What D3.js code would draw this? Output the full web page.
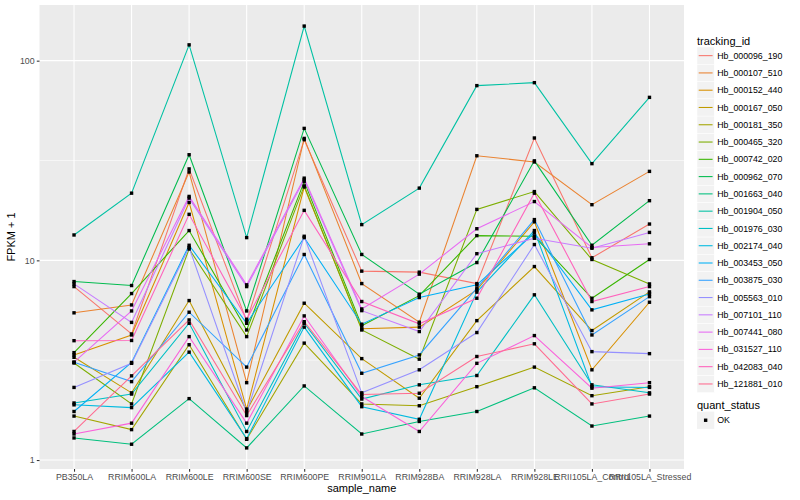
<!DOCTYPE html>
<html>
<head>
<meta charset="utf-8">
<script src="https://cdn.jsdelivr.net/npm/d3@7"></script>
<style>
  body { margin: 0; background: #fff; }
  text { font-family: "Liberation Sans", Arial, Helvetica, sans-serif; }
</style>
</head>
<body>
<div id="chart"></div>
<script>
// --- Data (FPKM + 1) ---
const samples = ['PB350LA', 'RRIM600LA', 'RRIM600LE', 'RRIM600SE', 'RRIM600PE', 'RRIM901LA',
  'RRIM928BA', 'RRIM928LA', 'RRIM928LE', 'RRII105LA_Control', 'RRII105LA_Stressed'];

const trackingIds = ['Hb_000096_190', 'Hb_000107_510', 'Hb_000152_440', 'Hb_000167_050', 'Hb_000181_350',
  'Hb_000465_320', 'Hb_000742_020', 'Hb_000962_070', 'Hb_001663_040', 'Hb_001904_050',
  'Hb_001976_030', 'Hb_002174_040', 'Hb_003453_050', 'Hb_003875_030', 'Hb_005563_010',
  'Hb_007101_110', 'Hb_007441_080', 'Hb_031527_110', 'Hb_042083_040', 'Hb_121881_010'];

const hb000096_190 = [7.39, 4.28, 28.7, 4.97, 40.2, 8.83, 8.73, 7.65, 41.0, 10.3, 15.2];
const hb000107_510 = [5.46, 5.98, 27.7, 2.44, 40.8, 7.65, 4.90, 33.4, 31.1, 19.0, 27.9];
const hb000152_440 = [3.36, 4.23, 19.5, 1.80, 23.3, 4.54, 4.63, 7.11, 15.6, 2.83, 6.17];
const hb000167_050 = [3.27, 2.17, 6.29, 1.77, 6.10, 3.22, 2.04, 4.99, 9.31, 4.45, 6.95];
const hb000181_350 = [1.66, 1.42, 3.78, 1.27, 3.85, 1.91, 1.87, 2.33, 2.92, 2.10, 2.33];
const hb000465_320 = [3.06, 1.91, 11.4, 4.15, 23.6, 4.48, 3.20, 18.0, 22.1, 10.1, 7.62];
const hb000742_020 = [3.45, 6.82, 14.1, 4.48, 24.8, 4.70, 6.66, 13.3, 13.2, 6.46, 10.1];
const hb000962_070 = [7.83, 7.48, 33.8, 5.58, 45.8, 10.7, 6.77, 9.75, 31.5, 11.9, 19.9];
const hb001663_040 = [1.29, 1.20, 2.03, 1.15, 2.35, 1.35, 1.56, 1.75, 2.30, 1.48, 1.66];
const hb001904_050 = [13.4, 21.7, 120, 13.0, 149, 15.1, 23.0, 75.0, 77.6, 30.5, 65.5];
const hb001976_030 = [1.93, 2.14, 4.84, 1.39, 4.84, 2.02, 2.38, 2.65, 6.72, 2.38, 2.17];
const hb002174_040 = [1.89, 1.83, 3.47, 1.28, 4.63, 1.85, 1.60, 6.93, 14.1, 2.33, 2.31];
const hb003453_050 = [1.75, 3.08, 11.9, 4.84, 13.0, 4.79, 6.51, 7.54, 13.7, 5.65, 6.79];
const hb003875_030 = [3.09, 2.47, 5.50, 2.92, 10.7, 2.72, 3.36, 7.26, 16.0, 4.23, 6.58];
const hb005563_010 = [2.31, 3.05, 11.6, 1.73, 13.2, 2.17, 2.83, 4.35, 12.0, 3.49, 3.41];
const hb007101_110 = [7.62, 4.89, 20.5, 7.39, 25.3, 5.60, 4.40, 10.8, 12.9, 11.5, 13.8];
const hb007441_080 = [3.09, 5.58, 20.9, 7.54, 25.8, 5.71, 8.53, 14.4, 19.7, 11.6, 12.1];
const hb031527_110 = [1.35, 1.53, 4.15, 1.53, 5.27, 2.08, 1.39, 3.05, 4.20, 2.29, 2.44];
const hb042083_040 = [3.96, 3.97, 17.0, 5.07, 17.8, 6.22, 4.81, 6.46, 21.7, 6.22, 7.39];
const hb121881_010 = [1.39, 2.64, 5.03, 1.67, 4.93, 2.13, 2.16, 3.30, 3.82, 1.91, 2.14];

const seriesValues = [hb000096_190, hb000107_510, hb000152_440, hb000167_050, hb000181_350,
  hb000465_320, hb000742_020, hb000962_070, hb001663_040, hb001904_050,
  hb001976_030, hb002174_040, hb003453_050, hb003875_030, hb005563_010,
  hb007101_110, hb007441_080, hb031527_110, hb042083_040, hb121881_010];

const yTicks = [1, 10, 100];
const yMinor = [Math.pow(10, 0.5), Math.pow(10, 1.5)];
const quantLevels = ['OK'];

// ggplot default hue palette for 20 levels
const palette = ['#F8766D', '#EA8331', '#D89000', '#C09B00', '#A3A500', '#7CAE00', '#39B600',
  '#00BB4E', '#00BF7D', '#00C1A3', '#00BFC4', '#00BAE0', '#00B0F6', '#35A2FF', '#9590FF',
  '#C77CFF', '#E76BF3', '#FA62DB', '#FF62BC', '#FF6C91'];

// --- Layout ---
const W = 800, H = 500;
const panel = { left: 39.5, right: 684, top: 5, bottom: 469 };
const axisText = '#4D4D4D';

const svg = d3.select('#chart').append('svg')
  .attr('width', W).attr('height', H);

svg.append('rect').attr('width', W).attr('height', H).attr('fill', '#fff');

// scales (log10, 5% expansion like ggplot)
const allVals = seriesValues.flat();
const lmin = Math.log10(d3.min(allVals)), lmax = Math.log10(d3.max(allVals));
const pad = (lmax - lmin) * 0.05;
const y = d3.scaleLog()
  .domain([Math.pow(10, lmin - pad), Math.pow(10, lmax + pad)])
  .range([panel.bottom, panel.top]);

const x = d3.scalePoint()
  .domain(samples)
  .range([panel.left, panel.right])
  .padding(0.6);

// panel background
svg.append('rect')
  .attr('x', panel.left).attr('y', panel.top)
  .attr('width', panel.right - panel.left).attr('height', panel.bottom - panel.top)
  .attr('fill', '#EBEBEB');

// grid
const grid = svg.append('g');
grid.selectAll('.minor').data(yMinor).join('line')
  .attr('x1', panel.left).attr('x2', panel.right)
  .attr('y1', d => y(d)).attr('y2', d => y(d))
  .attr('stroke', '#fff').attr('stroke-width', 0.55);
grid.selectAll('.majy').data(yTicks).join('line')
  .attr('x1', panel.left).attr('x2', panel.right)
  .attr('y1', d => y(d)).attr('y2', d => y(d))
  .attr('stroke', '#fff').attr('stroke-width', 1.1);
grid.selectAll('.majx').data(samples).join('line')
  .attr('x1', d => x(d)).attr('x2', d => x(d))
  .attr('y1', panel.top).attr('y2', panel.bottom)
  .attr('stroke', '#fff').attr('stroke-width', 1.1);

// lines
const line = d3.line()
  .x((d, i) => x(samples[i]))
  .y(d => y(d));

svg.append('g').selectAll('path').data(seriesValues).join('path')
  .attr('d', d => line(d))
  .attr('fill', 'none')
  .attr('stroke', (d, i) => palette[i])
  .attr('stroke-width', 1.07);

// points (quant_status = OK, square)
const pts = [];
seriesValues.forEach(vals => vals.forEach((v, i) => pts.push({ s: samples[i], v })));
svg.append('g').selectAll('rect').data(pts).join('rect')
  .attr('x', d => x(d.s) - 1.7).attr('y', d => y(d.v) - 1.7)
  .attr('width', 3.4).attr('height', 3.4)
  .attr('fill', '#000');

// y axis
const yAxis = d3.axisLeft(y).tickValues(yTicks).tickFormat(d3.format('d')).tickSize(2.7).tickPadding(2.2);
const gy = svg.append('g').attr('transform', `translate(${panel.left},0)`).call(yAxis);
gy.select('.domain').remove();
gy.selectAll('.tick line').attr('stroke', '#333').attr('stroke-width', 1.07);
gy.selectAll('.tick text').attr('fill', axisText).style('font-size', '8.8px')
  .style('font-family', '"Liberation Sans", Arial, sans-serif');

// x axis
const xAxis = d3.axisBottom(x).tickSize(2.7).tickPadding(2.2);
const gx = svg.append('g').attr('transform', `translate(0,${panel.bottom})`).call(xAxis);
gx.select('.domain').remove();
gx.selectAll('.tick line').attr('stroke', '#333').attr('stroke-width', 1.07);
gx.selectAll('.tick text').attr('fill', axisText).style('font-size', '8.8px')
  .style('font-family', '"Liberation Sans", Arial, sans-serif');

// axis titles
svg.append('text')
  .attr('x', (panel.left + panel.right) / 2).attr('y', 492)
  .attr('text-anchor', 'middle').style('font-size', '11px').attr('fill', '#000')
  .text('sample_name');

svg.append('text')
  .attr('transform', `translate(15,${(panel.top + panel.bottom) / 2}) rotate(-90)`)
  .attr('text-anchor', 'middle').style('font-size', '11px').attr('fill', '#000')
  .text('FPKM + 1');

// --- Legend ---
const legX = 697, keyW = 17.28, keyH = 17.28;
const leg = svg.append('g');
leg.append('text').attr('x', legX).attr('y', 44.5)
  .style('font-size', '11px').attr('fill', '#000').text('tracking_id');

const keyTop = 47;
const keys = leg.selectAll('.key').data(trackingIds).join('g')
  .attr('transform', (d, i) => `translate(${legX},${keyTop + i * keyH})`);
keys.append('rect').attr('width', keyW).attr('height', keyH)
  .attr('fill', '#F2F2F2').attr('stroke', '#fff').attr('stroke-width', 0.5);
keys.append('line')
  .attr('x1', 1.7).attr('x2', keyW - 1.7)
  .attr('y1', keyH / 2).attr('y2', keyH / 2)
  .attr('stroke', (d, i) => palette[i]).attr('stroke-width', 1.07);
keys.append('text').attr('x', keyW + 3).attr('y', keyH / 2 + 3.1)
  .style('font-size', '8.8px').attr('fill', '#000').text(d => d);

const qTop = keyTop + trackingIds.length * keyH + 11;
leg.append('text').attr('x', legX).attr('y', qTop + 5)
  .style('font-size', '11px').attr('fill', '#000').text('quant_status');
const qk = leg.selectAll('.qkey').data(quantLevels).join('g')
  .attr('transform', (d, i) => `translate(${legX},${qTop + 8 + i * keyH})`);
qk.append('rect').attr('width', keyW).attr('height', keyH).attr('fill', '#F2F2F2');
qk.append('rect').attr('x', keyW / 2 - 1.7).attr('y', keyH / 2 - 1.7)
  .attr('width', 3.4).attr('height', 3.4).attr('fill', '#000');
qk.append('text').attr('x', keyW + 3).attr('y', keyH / 2 + 3.1)
  .style('font-size', '8.8px').attr('fill', '#000').text(d => d);
</script>
</body>
</html>
